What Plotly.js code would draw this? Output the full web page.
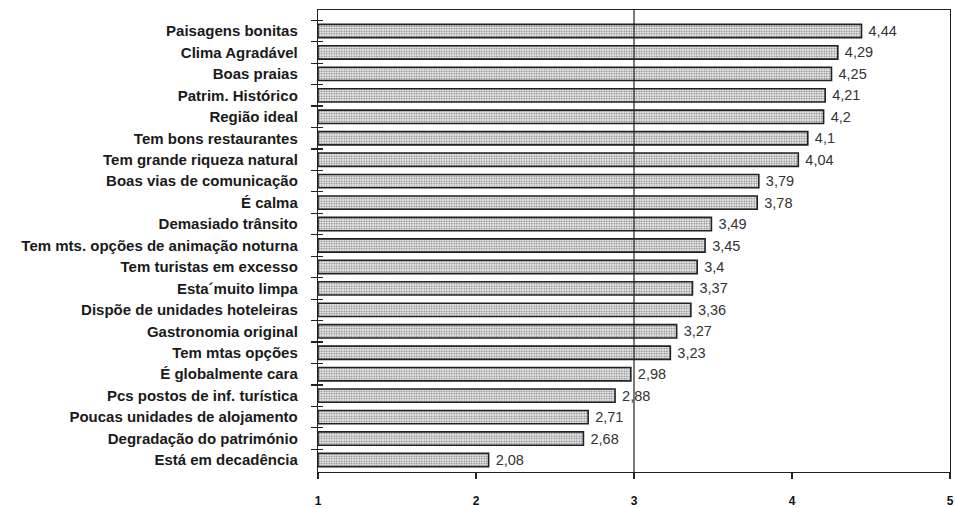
<!DOCTYPE html>
<html>
<head>
<meta charset="utf-8">
<script src="https://cdn.plot.ly/plotly-3.0.1.min.js"></script>
<style>html,body{margin:0;padding:0;background:#fff;}#chart{width:956px;height:508px;}</style>
</head>
<body>
<div id="chart"></div>
<script>
const categories = [
  "Paisagens bonitas", "Clima Agradável", "Boas praias", "Patrim. Histórico",
  "Região ideal", "Tem bons restaurantes", "Tem grande riqueza natural",
  "Boas vias de comunicação", "É calma", "Demasiado trânsito",
  "Tem mts. opções de animação noturna", "Tem turistas em excesso",
  "Esta´muito limpa", "Dispõe de unidades hoteleiras", "Gastronomia original",
  "Tem mtas opções", "É globalmente cara", "Pcs postos de inf. turística",
  "Poucas unidades de alojamento", "Degradação do património", "Está em decadência"
];
const values = [4.44, 4.29, 4.25, 4.21, 4.2, 4.1, 4.04, 3.79, 3.78, 3.49, 3.45, 3.4, 3.37, 3.36, 3.27, 3.23, 2.98, 2.88, 2.71, 2.68, 2.08];
const xTicks = [1, 2, 3, 4, 5];
const xTickLabels = ["1", "2", "3", "4", "5"];
const baseValue = 1;
const refLine = 3;

const labels = values.map(v => ' ' + String(v).replace('.', ','));

const trace = {
  type: 'bar',
  orientation: 'h',
  y: categories,
  x: values.map(v => v - baseValue),
  base: baseValue,
  text: labels,
  textposition: 'outside',
  constraintext: 'none',
  cliponaxis: false,
  textfont: {family: 'Liberation Sans, Arial, sans-serif', size: 14.5, color: '#333'},
  width: 0.62,
  marker: {
    color: '#d8d8d8',
    line: {color: '#222', width: 1.6},
    pattern: {shape: '.', fgcolor: '#7a7a7a', bgcolor: '#f0f0f0', size: 2.5, solidity: 0.4}
  },
  hoverinfo: 'none'
};

// invisible companion trace so the inner tick marks of the category axis are drawn
const tickTrace = {
  type: 'scatter', mode: 'markers',
  x: values, y: categories,
  yaxis: 'y2',
  marker: {opacity: 0, size: 1},
  hoverinfo: 'none', showlegend: false
};

const layout = {
  width: 956, height: 508,
  margin: {l: 318, r: 6, t: 10, b: 36},
  paper_bgcolor: '#fff', plot_bgcolor: '#fff',
  showlegend: false,
  font: {family: 'Liberation Sans, Arial, sans-serif', color: '#111'},
  xaxis: {
    range: [1, 5],
    tickvals: xTicks, ticktext: xTickLabels,
    showgrid: false, zeroline: false,
    showline: true, linecolor: '#222', linewidth: 1.2, mirror: true,
    ticks: 'outside', ticklen: 6, tickcolor: '#222', tickwidth: 1.2,
    ticklabelstandoff: 11,
    tickfont: {size: 12, color: '#111', family: 'Liberation Sans, Arial, sans-serif', weight: 'bold'}
  },
  yaxis: {
    type: 'category',
    categoryorder: 'array', categoryarray: categories,
    range: [20.56, -0.98],
    showgrid: false, zeroline: false,
    showline: true, linecolor: '#222', linewidth: 1.2, mirror: true,
    ticks: 'outside', tickson: 'boundaries', ticklen: 6, tickcolor: '#222', tickwidth: 1.2,
    ticklabelstandoff: 16,
    tickfont: {size: 15, color: '#1a1a1a', family: 'Liberation Sans, Arial, sans-serif', weight: 'bold'}
  },
  yaxis2: {
    type: 'category', overlaying: 'y', side: 'left',
    categoryorder: 'array', categoryarray: categories,
    range: [20.56, -0.98],
    showgrid: false, zeroline: false, showline: false,
    ticks: 'inside', tickson: 'boundaries', ticklen: 5, tickcolor: '#222', tickwidth: 1.2,
    showticklabels: false
  },
  shapes: [
    {type: 'line', xref: 'x', yref: 'paper', x0: refLine, x1: refLine, y0: 0, y1: 1,
     line: {color: '#222', width: 1.2}, layer: 'above'}
  ]
};

Plotly.newPlot('chart', [trace, tickTrace], layout, {staticPlot: true, displayModeBar: false});
</script>
</body>
</html>
